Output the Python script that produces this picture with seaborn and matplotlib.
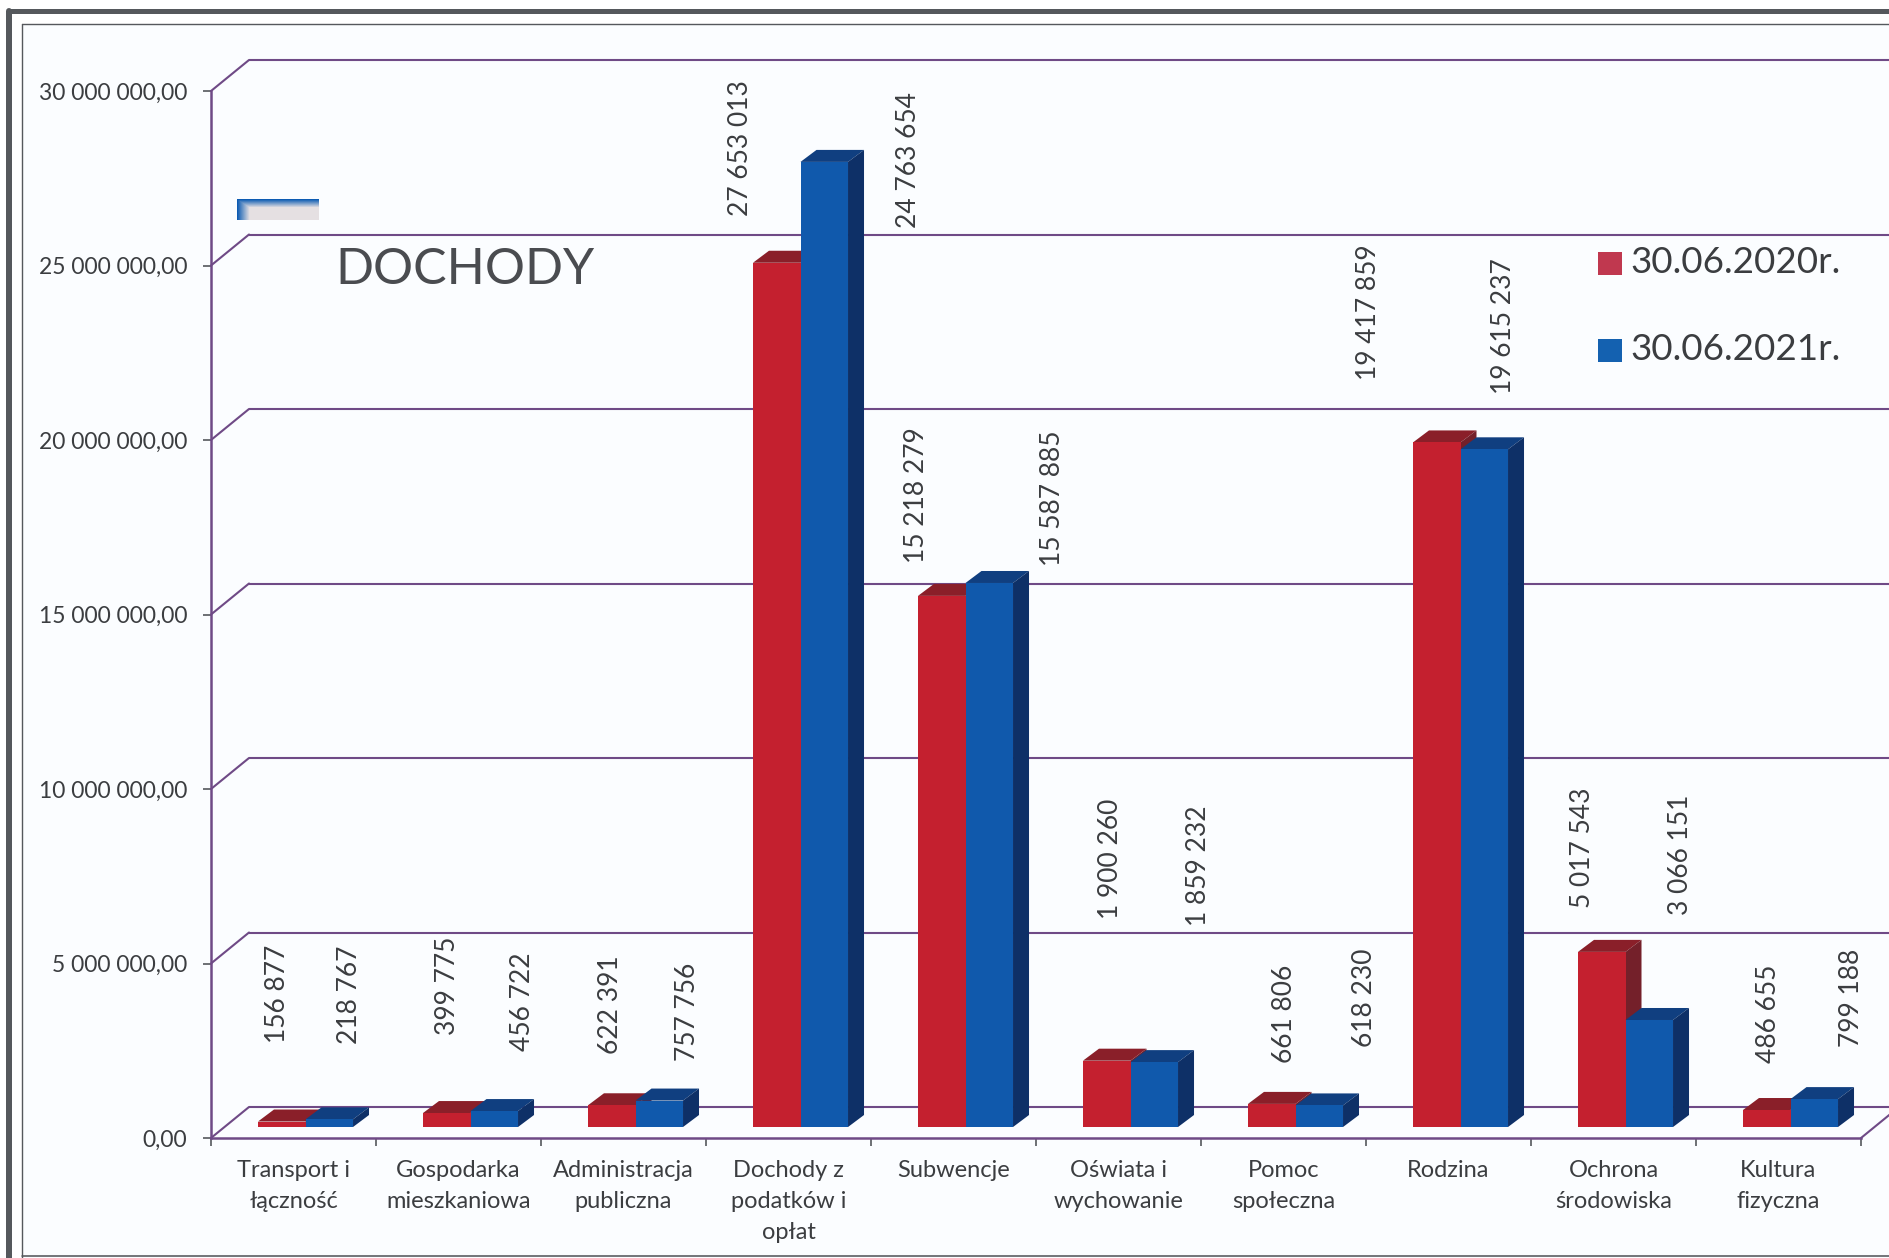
import numpy as np
import pandas as pd
import matplotlib.pyplot as plt
import seaborn as sns
from matplotlib.patches import Polygon, Rectangle
from matplotlib.transforms import Affine2D

categories = ["Transport i\nłączność", "Gospodarka\nmieszkaniowa", "Administracja\npubliczna",
              "Dochody z\npodatków i\nopłat", "Subwencje", "Oświata i\nwychowanie",
              "Pomoc\nspołeczna", "Rodzina", "Ochrona\nśrodowiska", "Kultura\nfizyczna"]
series_names = ["30.06.2020r.", "30.06.2021r."]
values_2020 = [156877, 399775, 622391, 24763654, 15218279, 1900260, 661806, 19615237, 5017543, 486655]
values_2021 = [218767, 456722, 757756, 27653013, 15587885, 1859232, 618230, 19417859, 3066151, 799188]
y_ticks = [0, 5000000, 10000000, 15000000, 20000000, 25000000, 30000000]
y_tick_labels = ["0,00", "5 000 000,00", "10 000 000,00", "15 000 000,00", "20 000 000,00",
                 "25 000 000,00", "30 000 000,00"]

# the data labels were moved by hand in the original, text + where it sits (reference px)
labels_left = ["156 877", "399 775", "622 391", "27 653 013", "15 218 279",
               "1 900 260", "661 806", "19 417 859", "5 017 543", "486 655"]
labels_right = ["218 767", "456 722", "757 756", "24 763 654", "15 587 885",
                "1 859 232", "618 230", "19 615 237", "3 066 151", "799 188"]
left_x = [278, 448, 611, 741, 917, 1111, 1285, 1369, 1583, 1769]
left_y = [1043, 1035, 1054, 216, 563, 919, 1063, 380, 908, 1063]
right_x = [350, 523, 688, 909, 1053, 1199, 1365, 1504, 1681, 1852]
right_y = [1044, 1051, 1061, 228, 566, 926, 1047, 394, 915, 1047]

W, H = 1890, 1258
RED, RED_TOP, RED_SIDE = "#c4202f", "#8a1f29", "#74202a"
BLUE, BLUE_TOP, BLUE_SIDE = "#1059ac", "#103f80", "#0e3067"
LINE = "#6f4a86"
TEXT = "#3b3d40"

sns.set_theme(style="white")
plt.rcParams['font.family'] = ['Lato', 'DejaVu Sans']

fig = plt.figure(figsize=(W / 100, H / 100), dpi=100, facecolor="white")


def px(x, y):
    return x / W, 1 - y / H


# paper + frame
fig.add_artist(Rectangle(px(22, 1258), 1868 / W, 1234 / H, transform=fig.transFigure,
                         facecolor="#fbfdff", edgecolor="none", zorder=-5))
frame = [((9, 1258), (9, 11), 6), ((9, 11), (1890, 11), 5), ((22, 1258), (22, 24), 1.4),
         ((22, 24), (1890, 24), 1.4), ((22, 1256), (1890, 1256), 1.6)]
for a, b, w in frame:
    fig.add_artist(plt.Line2D([px(*a)[0], px(*b)[0]], [px(*a)[1], px(*b)[1]],
                              color="#55585c", lw=w * 0.72, transform=fig.transFigure))

ax = fig.add_axes([211 / W, 1 - 1138 / H, 1650 / W, 1047 / H])
ax.patch.set_alpha(0)

df = pd.DataFrame({
    "category": categories * 2,
    "series": [series_names[0]] * 10 + [series_names[1]] * 10,
    "value": values_2020 + values_2021,
})
sns.barplot(data=df, x="category", y="value", hue="series", order=categories,
            palette=[RED, BLUE], width=0.576, gap=0, saturation=1, legend=False,
            linewidth=0, edgecolor="none", ax=ax)
ax.set_xlim(-0.5, 9.5)
ax.set_ylim(0, 30000000)

# 3d look: floor shift of the bars and depth of the box, in pixels
bar_shift = Affine2D().translate(12, 11)
depth_x = 16 / 165
depth_y = 12 * 30000000 / 1047
bars = [p for p in ax.patches]
for i, bar in enumerate(bars):
    is_red = i < 10
    top_c, side_c = (RED_TOP, RED_SIDE) if is_red else (BLUE_TOP, BLUE_SIDE)
    base_z = 3 if is_red else 5
    x0, x1 = bar.get_x(), bar.get_x() + bar.get_width()
    h = bar.get_height()
    bar.set_transform(ax.transData + bar_shift)
    bar.set_zorder(base_z + 1)
    bar.set_clip_on(False)
    top = Polygon([(x0, h), (x1, h), (x1 + depth_x, h + depth_y), (x0 + depth_x, h + depth_y)],
                  facecolor=top_c, edgecolor="none", zorder=base_z,
                  transform=ax.transData + bar_shift, clip_on=False)
    side = Polygon([(x1, 0), (x1, h), (x1 + depth_x, h + depth_y), (x1 + depth_x, depth_y)],
                   facecolor=side_c, edgecolor="none", zorder=base_z,
                   transform=ax.transData + bar_shift, clip_on=False)
    ax.add_patch(top)
    ax.add_patch(side)

# back wall lines and the slanted bits going to them
wall_dy = 31
wall_shift = Affine2D().translate(38, wall_dy)
for t in y_ticks:
    ax.plot([-0.5, 10], [t, t], color=LINE, lw=1.5, zorder=1, clip_on=False,
            transform=ax.transData + wall_shift, solid_capstyle="butt")
    ax.plot([-0.5, -0.5 + 38 / 165], [t, t + wall_dy * 30000000 / 1047], color=LINE, lw=1.5, zorder=1,
            clip_on=False)
ax.plot([9.5, 9.5 + 38 / 165], [0, wall_dy * 30000000 / 1047], color=LINE, lw=1.5, zorder=1, clip_on=False)

sns.despine(ax=ax)
for s in ["left", "bottom"]:
    ax.spines[s].set_color(LINE)
    ax.spines[s].set_linewidth(1.8)
    ax.spines[s].set_zorder(2)

ax.set_xlabel("")
ax.set_ylabel("")
ax.set_yticks(y_ticks)
ax.set_yticklabels(y_tick_labels, fontsize=16.5, color=TEXT)
ax.tick_params(axis="y", left=True, length=6, width=1.2, color="#55585c", pad=11)
ax.set_xticks(range(10))
ax.set_xticklabels(categories, fontsize=17, color=TEXT, linespacing=1.58, va="top")
ax.set_xticks(np.arange(-0.5, 10), minor=True)
ax.tick_params(axis="x", which="major", bottom=False, length=0, pad=16)
ax.tick_params(axis="x", which="minor", bottom=True, length=6, width=1.2, color="#55585c")

for txt, x, y in zip(labels_left + labels_right, left_x + right_x, left_y + right_y):
    fx, fy = px(x, y)
    fig.text(fx, fy, txt, rotation=90, ha="center", va="bottom", fontsize=19, color=TEXT, zorder=8)

# title and hand made legend
fx, fy = px(335, 270)
fig.text(fx, fy, "DOCHODY", fontsize=36, color="#4a4c50", ha="left", va="center")
for name, col, sy, ty in zip(series_names, ["#c0384f", "#1461b0"], [252, 339], [263, 350]):
    fig.add_artist(Rectangle(px(1598, sy + 23), 24 / W, 23 / H, transform=fig.transFigure,
                             facecolor=col, edgecolor="none"))
    fx, fy = px(1630, ty)
    fig.text(fx, fy, name, fontsize=26.5, color=TEXT, ha="left", va="center")

# small stray gradient block left over from the original slide
swatch = fig.add_axes([237 / W, 1 - 220 / H, 82 / W, 21 / H])
gy = np.linspace(0, 1, 21)[:, None]
gx = np.linspace(0, 1, 82)[None, :]
mix = np.clip(np.maximum(1 - gy / 0.4, 1 - gx / 0.15), 0, 1)[:, :, None]
swatch.imshow(mix * np.array([0.05, 0.36, 0.70]) + (1 - mix) * np.array([0.90, 0.88, 0.89]), aspect="auto")
swatch.axis("off")

fig.savefig("out.png", dpi=100)
